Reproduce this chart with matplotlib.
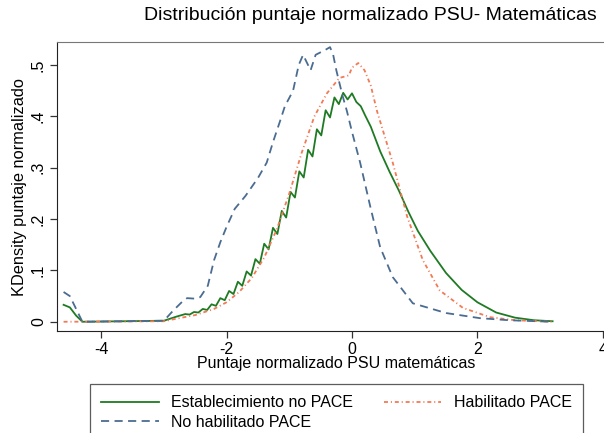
import matplotlib
matplotlib.use('Agg')
from matplotlib import pyplot as plt

matplotlib.rcParams['font.family'] = ['Liberation Sans', 'DejaVu Sans']
matplotlib.rcParams['axes.unicode_minus'] = False

# Establecimiento no PACE (green, solid)
green_x = [-4.6, -4.5, -4.4, -4.3, -3.0, -2.8, -2.66, -2.59, -2.52, -2.45,
           -2.38, -2.31, -2.24, -2.17, -2.10, -2.03, -1.96, -1.89, -1.82, -1.75,
           -1.68, -1.61, -1.54, -1.47, -1.40, -1.33, -1.26, -1.19, -1.12, -1.05,
           -0.98, -0.91, -0.84, -0.77, -0.70, -0.63, -0.56, -0.49, -0.42, -0.35,
           -0.28, -0.21, -0.14, -0.07, 0.0, 0.07, 0.14, 0.21, 0.3, 0.45,
           0.6, 0.75, 0.9, 1.05, 1.25, 1.5, 1.75, 2.0, 2.3, 2.6, 2.9, 3.2]
green_y = [0.033, 0.028, 0.012, 0.0, 0.002, 0.010, 0.015, 0.014, 0.019, 0.018,
           0.025, 0.023, 0.034, 0.031, 0.046, 0.042, 0.060, 0.054, 0.078, 0.070,
           0.098, 0.090, 0.122, 0.113, 0.152, 0.141, 0.183, 0.171, 0.216, 0.203,
           0.253, 0.242, 0.293, 0.281, 0.335, 0.322, 0.375, 0.363, 0.412, 0.398,
           0.437, 0.424, 0.446, 0.433, 0.445, 0.428, 0.420, 0.402, 0.380, 0.332,
           0.292, 0.255, 0.214, 0.177, 0.138, 0.095, 0.062, 0.038, 0.018, 0.008, 0.003, 0.001]

# Habilitado PACE (orange, dash-dot)
orange_x = [-4.6, -3.0, -2.8, -2.5, -2.2, -2.0, -1.8, -1.6, -1.4, -1.2,
            -1.0, -0.8, -0.6, -0.4, -0.2, -0.05, 0.0, 0.1, 0.2, 0.3,
            0.4, 0.5, 0.65, 0.88, 1.13, 1.4, 1.77, 2.2, 2.6, 3.2]
orange_y = [0.0, 0.001, 0.006, 0.013, 0.025, 0.038, 0.058, 0.085, 0.125, 0.180,
            0.250, 0.330, 0.400, 0.445, 0.475, 0.480, 0.495, 0.504, 0.490, 0.460,
            0.410, 0.370, 0.310, 0.205, 0.120, 0.061, 0.027, 0.009, 0.003, 0.0]

# No habilitado PACE (blue, dashed)
blue_x = [-4.6, -4.5, -4.4, -4.3, -3.0, -2.85, -2.7, -2.63, -2.5, -2.42,
          -2.3, -2.2, -2.1, -2.0, -1.87, -1.7, -1.5, -1.36, -1.26, -1.15,
          -1.07, -0.94, -0.85, -0.78, -0.72, -0.66, -0.58, -0.5, -0.42, -0.35,
          -0.3, -0.25, -0.15, -0.08, 0.0, 0.13, 0.3, 0.45, 0.65, 0.97,
          1.5, 2.04, 2.5, 2.95, 3.2]
blue_y = [0.058, 0.050, 0.025, 0.0, 0.002, 0.022, 0.040, 0.046, 0.045, 0.048,
          0.070, 0.120, 0.155, 0.185, 0.220, 0.245, 0.280, 0.310, 0.350, 0.390,
          0.420, 0.450, 0.500, 0.520, 0.505, 0.490, 0.520, 0.525, 0.530, 0.535,
          0.520, 0.490, 0.440, 0.410, 0.370, 0.310, 0.220, 0.145, 0.087, 0.036,
          0.017, 0.007, 0.003, 0.001, 0.0]

labels = ['Establecimiento no PACE', 'Habilitado PACE', 'No habilitado PACE']
xticks = [-4, -2, 0, 2, 4]
yticks = [0, 0.1, 0.2, 0.3, 0.4, 0.5]
ytick_labels = ['0', '.1', '.2', '.3', '.4', '.5']

fig = plt.figure(figsize=(6.04, 4.33), dpi=100)
ax = fig.add_axes([57 / 604, 102 / 433, 558 / 604, 289 / 433])

l1, = ax.plot(green_x, green_y, color='#1f7a24', lw=1.3)
l2, = ax.plot(orange_x, orange_y, color='#f27a55', lw=1.3,
              dashes=(2.2, 1.6, 0.6, 1.6))
l3, = ax.plot(blue_x, blue_y, color='#4b6c91', lw=1.3, dashes=(4.5, 3))

ax.set_xlim(-4.705, 4.195)
ax.set_ylim(-0.018, 0.545)
ax.set_xticks(xticks)
ax.set_xticklabels([str(t) for t in xticks], fontsize=11.5)
ax.set_yticks(yticks)
ax.set_yticklabels(ytick_labels, fontsize=11.5, rotation=90, va='center')
ax.tick_params(length=5, width=0.9, color='#333333', pad=3)

ax.spines['right'].set_visible(False)
ax.spines['top'].set_color('#777777')
ax.spines['left'].set_color('#222222')
ax.spines['bottom'].set_color('#222222')

ax.set_xlabel('Puntaje normalizado PSU matemáticas', fontsize=11.5, labelpad=-1)
ax.set_ylabel('KDensity puntaje normalizado', fontsize=11.8, labelpad=3)

fig.text(370 / 604, 1 - 15 / 433, 'Distribución puntaje normalizado PSU- Matemáticas',
         ha='center', va='center', fontsize=14)

# column-wise fill: green, blue in column 1, orange in column 2
leg = fig.legend([l1, l3, l2], [labels[0], labels[2], labels[1]],
                 ncol=2, loc='upper left', bbox_to_anchor=(90 / 604, 1 - 384 / 433),
                 fontsize=11.5, frameon=True, fancybox=False, handlelength=3.6,
                 columnspacing=1.9, borderpad=0.7, borderaxespad=0, labelspacing=0.3,
                 handletextpad=0.8)
leg.get_frame().set_edgecolor('#333333')
leg.get_frame().set_linewidth(0.9)

plt.savefig('out.png', dpi=100)
